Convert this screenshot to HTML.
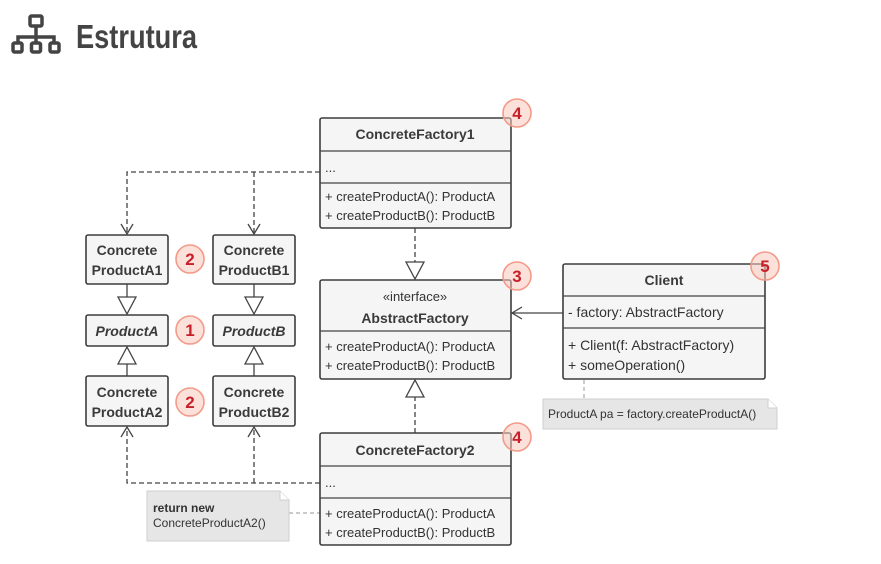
<!DOCTYPE html>
<html><head><meta charset="utf-8"><style>
html,body{margin:0;padding:0;background:#fff;}
svg{display:block;font-family:"Liberation Sans",sans-serif;}
.b{fill:#f5f5f5;stroke:#3d3d3d;stroke-width:1.6;}
.t{font-size:13px;fill:#333;}
.h{font-size:14px;font-weight:bold;fill:#3a3a3a;}
.d{stroke:#444;stroke-width:1.3;fill:none;stroke-dasharray:5,3;}
.s{stroke:#444;stroke-width:1.3;fill:none;}
.tri{fill:#fff;stroke:#444;stroke-width:1.3;}
.bg circle{fill:rgba(250,200,190,0.55);stroke:#f39a88;stroke-width:1.6;}
.bg text{font-size:17px;font-weight:bold;fill:#c8202a;text-anchor:middle;}
</style></head><body>
<svg width="881" height="564" viewBox="0 0 881 564">
<g fill="none" stroke="#444" stroke-width="3.5">
<rect x="30" y="16" width="12" height="10" rx="1.5"/>
<path d="M36 26v8M18 42v-5h36v5M36 34v8"/>
<rect x="13" y="43" width="9" height="9" rx="1.5"/>
<rect x="31.5" y="43" width="9" height="9" rx="1.5"/>
<rect x="50" y="43" width="9" height="9" rx="1.5"/>
</g>
<text x="76" y="48" style="font-size:33px;font-weight:bold;fill:#444;" textLength="121" lengthAdjust="spacingAndGlyphs">Estrutura</text>

<path class="d" d="M320 172H127V233M254 172V233"/>
<path class="s" d="M121 224l6 10 6-10M248 224l6 10 6-10"/>
<path class="d" d="M320 483H127V428M254 483V428"/>
<path class="s" d="M121 437l6-10 6 10M248 437l6-10 6 10"/>
<path class="d" d="M415 228V262M415 433V397"/>
<path class="tri" d="M406 262h18l-9 17zM406 397h18l-9-17z"/>
<path class="s" d="M563 313H512M522 307l-10 6 10 6"/>
<path class="s" d="M127 284v13M254 284v13M127 376v-12M254 376v-12"/>
<path class="tri" d="M118 297h18l-9 17zM245 297h18l-9 17zM118 364h18l-9-17zM245 364h18l-9-17z"/>
<path d="M584 380V399M289 513H320" stroke="#aaa" stroke-width="1.2" stroke-dasharray="4,3" fill="none"/>

<path d="M543 399h225l9 9v21H543z" fill="#e6e6e6" stroke="#cfcfcf"/>
<path d="M768 399v9h9" fill="#fff" stroke="#cfcfcf"/>
<text x="548" y="418" style="font-size:12px;fill:#333;">ProductA pa = factory.createProductA()</text>
<path d="M147 491h133l9 9v41H147z" fill="#e6e6e6" stroke="#cfcfcf"/>
<path d="M280 491v9h9" fill="#fff" stroke="#cfcfcf"/>
<text x="153" y="512" style="font-size:12px;font-weight:bold;fill:#333;">return new</text>
<text x="153" y="527" style="font-size:12px;fill:#333;">ConcreteProductA2()</text>

<rect class="b" x="86" y="235" width="82" height="49" rx="2"/>
<text class="h" x="127" y="255" text-anchor="middle">Concrete</text>
<text class="h" x="127" y="275" text-anchor="middle">ProductA1</text>
<rect class="b" x="213" y="235" width="82" height="49" rx="2"/>
<text class="h" x="254" y="255" text-anchor="middle">Concrete</text>
<text class="h" x="254" y="275" text-anchor="middle">ProductB1</text>
<rect class="b" x="86" y="315" width="82" height="31" rx="2"/>
<text class="h" x="127" y="336" text-anchor="middle" font-style="italic">ProductA</text>
<rect class="b" x="213" y="315" width="82" height="31" rx="2"/>
<text class="h" x="254" y="336" text-anchor="middle" font-style="italic">ProductB</text>
<rect class="b" x="86" y="376" width="82" height="50" rx="2"/>
<text class="h" x="127" y="397" text-anchor="middle">Concrete</text>
<text class="h" x="127" y="417" text-anchor="middle">ProductA2</text>
<rect class="b" x="213" y="376" width="82" height="50" rx="2"/>
<text class="h" x="254" y="397" text-anchor="middle">Concrete</text>
<text class="h" x="254" y="417" text-anchor="middle">ProductB2</text>

<rect class="b" x="320" y="118" width="191" height="110" rx="2"/>
<path class="s" d="M320 151H511M320 183H511" stroke="#3d3d3d" stroke-width="1.6"/>
<text class="h" x="415" y="139" text-anchor="middle">ConcreteFactory1</text>
<text class="t" x="325" y="172">...</text>
<text class="t" x="325" y="201">+ createProductA(): ProductA</text>
<text class="t" x="325" y="220">+ createProductB(): ProductB</text>

<rect class="b" x="320" y="280" width="191" height="99" rx="2"/>
<path class="s" d="M320 331H511" stroke="#3d3d3d" stroke-width="1.6"/>
<text class="t" x="415" y="301" text-anchor="middle">«interface»</text>
<text class="h" x="415" y="323" text-anchor="middle">AbstractFactory</text>
<text class="t" x="325" y="351">+ createProductA(): ProductA</text>
<text class="t" x="325" y="370">+ createProductB(): ProductB</text>

<rect class="b" x="320" y="433" width="191" height="112" rx="2"/>
<path class="s" d="M320 466H511M320 498H511" stroke="#3d3d3d" stroke-width="1.6"/>
<text class="h" x="415" y="455" text-anchor="middle">ConcreteFactory2</text>
<text class="t" x="325" y="487">...</text>
<text class="t" x="325" y="518">+ createProductA(): ProductA</text>
<text class="t" x="325" y="537">+ createProductB(): ProductB</text>

<rect class="b" x="563" y="264" width="202" height="115" rx="2"/>
<path class="s" d="M563 296H765M563 328H765" stroke="#3d3d3d" stroke-width="1.6"/>
<text class="h" x="664" y="285" text-anchor="middle">Client</text>
<text x="568" y="317" style="font-size:14px;fill:#333;">- factory: AbstractFactory</text>
<text x="568" y="350" style="font-size:14px;fill:#333;">+ Client(f: AbstractFactory)</text>
<text x="568" y="370" style="font-size:14px;fill:#333;">+ someOperation()</text>

<g class="bg">
<circle cx="190" cy="259" r="14"/><text x="190" y="265">2</text>
<circle cx="190" cy="330" r="14"/><text x="190" y="336">1</text>
<circle cx="190" cy="402" r="14"/><text x="190" y="408">2</text>
<circle cx="517" cy="113" r="14"/><text x="517" y="119">4</text>
<circle cx="517" cy="276" r="14"/><text x="517" y="282">3</text>
<circle cx="765" cy="266" r="14"/><text x="765" y="272">5</text>
<circle cx="517" cy="437" r="14"/><text x="517" y="443">4</text>
</g>
</svg>
</body></html>
